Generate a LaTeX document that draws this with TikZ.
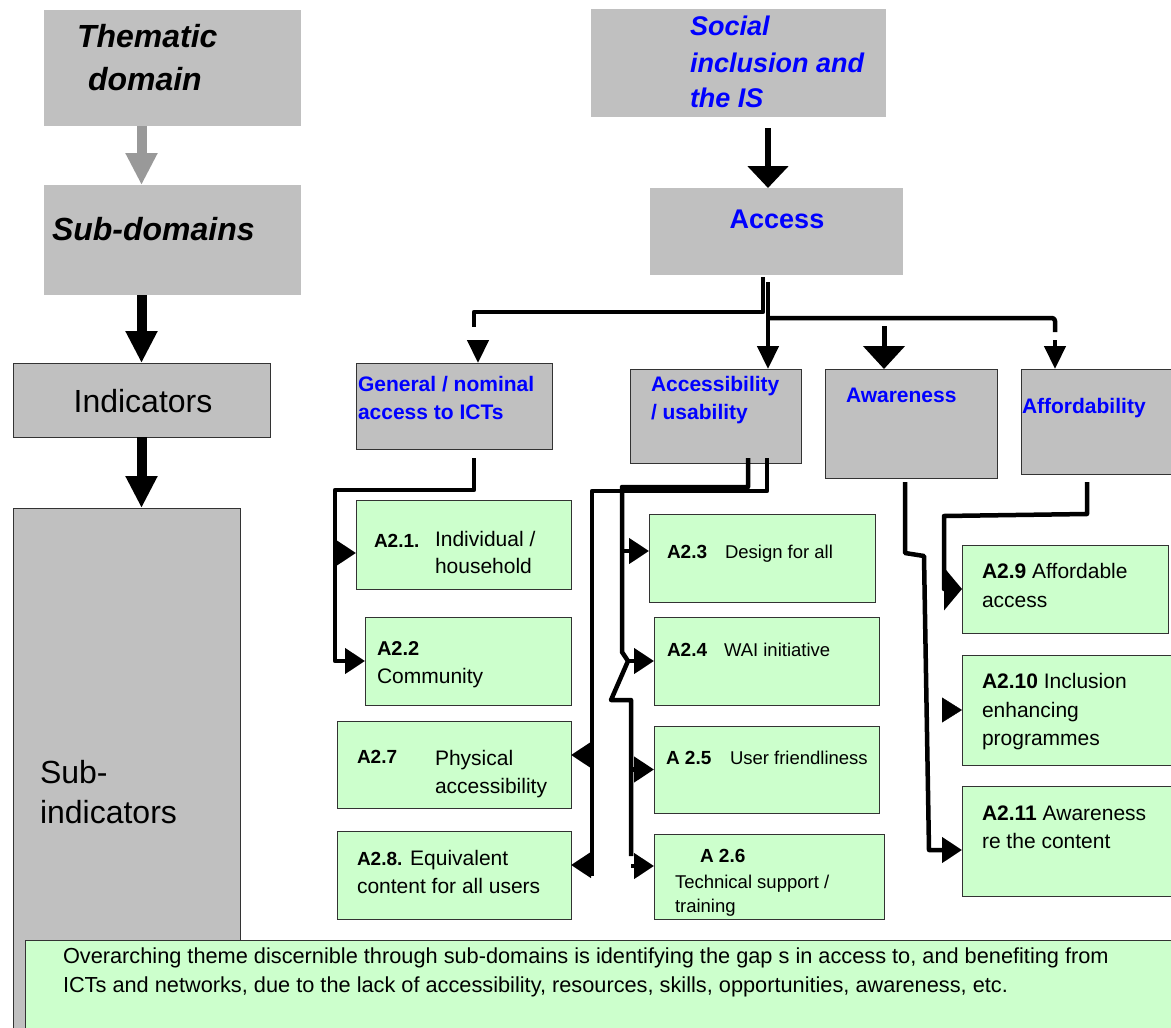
\documentclass[tikz,border=0pt]{standalone}
\usepackage{fontspec}
\setmainfont{Liberation Sans}
\usetikzlibrary{arrows.meta}
\definecolor{boxgray}{HTML}{C0C0C0}
\definecolor{boxgreen}{HTML}{CCFFCC}
\definecolor{bord}{HTML}{333333}
\definecolor{ablue}{HTML}{0000FF}
\definecolor{agray}{HTML}{999999}
\newcommand\setfs[1]{\fontsize{#1}{#1}\selectfont}
\begin{document}
\begin{tikzpicture}[x=1pt,y=-1pt,
  graybox/.style={fill=boxgray, draw=none, anchor=north west, inner sep=0pt, outer sep=0pt},
  grayframe/.style={graybox, draw=bord, line width=0.9pt},
  greenbox/.style={fill=boxgreen, draw=bord, line width=0.9pt, anchor=north west, inner sep=0pt, outer sep=0pt},
  lab/.style={anchor=base west, inner sep=0pt, outer sep=0pt},
  labc/.style={anchor=base, inner sep=0pt, outer sep=0pt},
  conn/.style={line width=4.5pt, line join=round},
  bigarrow/.style={line width=10pt, -{Triangle[width=30pt,length=32pt]}},
  tipR/.style={-{Triangle[width=25pt,length=20pt]}},
  tipD/.style={line width=4.5pt, -{Triangle[width=21pt,length=23pt]}},
  bluebf/.style={text=ablue, font=\setfs{21}\bfseries},
  gtext/.style={font=\setfs{21}},
  stext/.style={font=\setfs{18.5}}
]
\useasboundingbox (0,0) rectangle (1171,1028);

% ---------- left column ----------
\node[graybox, minimum width=257pt, minimum height=116pt] (them) at (44,10) {};
\node[lab] (themt1) at (77,47) {\setfs{32}\bfseries\itshape Thematic};
\node[lab] (themt2) at (88,90) {\setfs{32}\bfseries\itshape domain};
\node[graybox, minimum width=257pt, minimum height=110pt] (subd) at (44,185) {};
\node[lab] (subdt) at (52,240) {\setfs{32}\bfseries\itshape Sub-domains};
\node[grayframe, minimum width=257pt, minimum height=74pt] (ind) at (13,363) {};
\node[labc] (indt) at (143,412) {\setfs{32}Indicators};
\node[grayframe, minimum width=227pt, minimum height=560pt] (subi) at (13,508) {};
\node[lab] (subit1) at (40,783) {\setfs{32}Sub-};
\node[lab] (subit2) at (40,823) {\setfs{32}indicators};

\draw[bigarrow, draw=agray, color=agray] (them.south -| ind.north) -- (subd.north -| ind.north);
\draw[bigarrow] (subd.south -| ind.north) -- (ind.north);
\draw[bigarrow] (ind.south) -- (ind.south |- subi.north);

% ---------- right: top ----------
\node[graybox, minimum width=295pt, minimum height=108pt] (soc) at (591,9) {};
\node[lab, text=ablue] (soct1) at (690,35) {\setfs{27}\bfseries\itshape Social};
\node[lab, text=ablue] (soct2) at (690,72) {\setfs{27}\bfseries\itshape inclusion and};
\node[lab, text=ablue] (soct3) at (690,107) {\setfs{27}\bfseries\itshape the IS};
\node[graybox, minimum width=253pt, minimum height=87pt] (acc) at (650,188) {};
\node[labc, text=ablue] (acct) at (777,228) {\setfs{27}\bfseries Access};

\coordinate (s1) at (768,128);
\draw[line width=5.5pt, -{Triangle[width=40pt,length=22pt]}] (s1) -- (s1 |- acc.north);

% ---------- sub-domain boxes ----------
\node[grayframe, minimum width=196pt, minimum height=86pt] (gen) at (356,363) {};
\node[lab, bluebf] (gent1) at (358,391) {General / nominal};
\node[lab, bluebf] (gent2) at (358,419) {access to ICTs};
\node[grayframe, minimum width=171pt, minimum height=94pt] (accs) at (630,369) {};
\node[lab, bluebf] (accst1) at (651,391) {Accessibility};
\node[lab, bluebf] (accst2) at (651,419) {/ usability};
\node[grayframe, minimum width=172pt, minimum height=109pt] (awa) at (825,369) {};
\node[lab, bluebf] (awat) at (846,402) {Awareness};
\node[grayframe, minimum width=165pt, minimum height=105pt] (aff) at (1021,369) {};
\node[lab, bluebf] (afft) at (1022,413) {Affordability};

% branches from Access
\coordinate (accL) at (763,277);
\coordinate (accR) at (768,282);
\draw[conn] (accL) -- (763,312) -- (474,312) -- (474,327);
\coordinate (genIn) at (478,340);
\draw[tipD] (genIn) -- (genIn |- gen.north);
\draw[tipD] (accR) -- (accR |- accs.north);
\draw[conn, rounded corners=3pt] (768,318) -- (1055,318) -- (1055,332);
\coordinate (affIn) at (1055,340);
\draw[tipD] (affIn) -- (affIn |- aff.north);
\coordinate (awaIn) at (884,326);
\draw[line width=5pt, -{Triangle[width=41pt,length=23pt]}] (awaIn) -- (awaIn |- awa.north);

% ---------- green boxes ----------
\node[greenbox, minimum width=215pt, minimum height=89pt] (a21) at (356,500) {};
\node[lab] (a21a) at (374,547) {\setfs{19}\bfseries A2.1.};
\node[lab, gtext] (a21b) at (435,546) {Individual /};
\node[lab, gtext] (a21c) at (435,573) {household};

\node[greenbox, minimum width=206pt, minimum height=88pt] (a22) at (365,617) {};
\node[lab] (a22a) at (377,655) {\setfs{20}\bfseries A2.2};
\node[lab, gtext] (a22b) at (377,683) {Community};

\node[greenbox, minimum width=234pt, minimum height=87pt] (a27) at (337,721) {};
\node[lab] (a27a) at (357,763) {\setfs{19}\bfseries A2.7};
\node[lab, gtext] (a27b) at (435,765) {Physical};
\node[lab, gtext] (a27c) at (435,793) {accessibility};

\node[greenbox, minimum width=234pt, minimum height=88pt] (a28) at (337,831) {};
\node[lab, gtext] (a28a) at (357,865) {{\setfs{19}\bfseries A2.8.} Equivalent};
\node[lab, gtext] (a28b) at (357,893) {content for all users};

\node[greenbox, minimum width=226pt, minimum height=88pt] (a23) at (649,514) {};
\node[lab] (a23a) at (667,558) {\setfs{19}\bfseries A2.3};
\node[lab, stext] (a23b) at (725,558) {Design for all};

\node[greenbox, minimum width=225pt, minimum height=88pt] (a24) at (654,617) {};
\node[lab] (a24a) at (667,656) {\setfs{19}\bfseries A2.4};
\node[lab, stext] (a24b) at (724,656) {WAI initiative};

\node[greenbox, minimum width=225pt, minimum height=87pt] (a25) at (654,726) {};
\node[lab] (a25a) at (666,764) {\setfs{19}\bfseries A 2.5};
\node[lab, stext] (a25b) at (730,764) {User friendliness};

\node[greenbox, minimum width=230pt, minimum height=85pt] (a26) at (654,834) {};
\node[lab] (a26a) at (700,862) {\setfs{19}\bfseries A 2.6};
\node[lab, stext] (a26b) at (675,888) {Technical support /};
\node[lab, stext] (a26c) at (675,912) {training};

\node[greenbox, minimum width=206pt, minimum height=88pt] (a29) at (962,545) {};
\node[lab, gtext] (a29a) at (982,578) {\textbf{A2.9} Affordable};
\node[lab, gtext] (a29b) at (982,607) {access};

\node[greenbox, minimum width=215pt, minimum height=110pt] (a210) at (962,655) {};
\node[lab, gtext] (a210a) at (982,688) {\textbf{A2.10} Inclusion};
\node[lab, gtext] (a210b) at (982,717) {enhancing};
\node[lab, gtext] (a210c) at (982,745) {programmes};

\node[greenbox, minimum width=215pt, minimum height=110pt] (a211) at (962,786) {};
\node[lab, gtext] (a211a) at (982,820) {\textbf{A2.11} Awareness};
\node[lab, gtext] (a211b) at (982,848) {re the content};

% ---------- connectors to green boxes ----------
\coordinate (genOut) at (474,458);
\draw[conn, tipR] (genOut) -- (474,490) -- (335,490) -- (335,661) -- (a22.west);
\draw[conn, tipR] (335,553) -- ([yshift=-8.5pt]a21.west);

\coordinate (accsL) at (748,458);
\coordinate (accsR) at (767,458);
\draw[conn] (accsR) -- (767,491) -- (592,491) -- (592,876);
\draw[conn] (accsL) -- (748,487) -- (622,487) -- (622,652) -- (628,661) -- (611,700) -- (631,700) -- (631,856);
\draw[conn, tipR] (592,755) -- ([yshift=9.5pt]a27.east);
\draw[conn, tipR] (592,865) -- ([yshift=10pt]a28.east);
\draw[conn, tipR] (622,551) -- ([yshift=7pt]a23.west);
\draw[conn, tipR] (626,661) -- (a24.west);
\draw[conn, tipR] (631,769.5) -- (a25.west);
\draw[conn, tipR] (631,866) -- ([yshift=10.5pt]a26.west);

\coordinate (awaOut) at (905,482);
\draw[conn, tipR] (awaOut) -- (905,553) -- (924,556) -- (929,850) -- ([yshift=-9pt]a211.west);
\coordinate (a210In) at (942,710);
\draw[tipR] (a210In) -- (a210.west);

\coordinate (affOut) at (1087,482);
\draw[conn, -{Triangle[width=42pt,length=18pt]}] (affOut) -- (1087,514) -- (944,516) -- (944,589) -- (a29.west);

% ---------- overarching box ----------
\node[greenbox, minimum width=1160pt, minimum height=100pt] (over) at (25,940) {};
\node[lab] (overt1) at (63,963) {\setfs{21.75}Overarching theme discernible through sub-domains is identifying the gap s in access to, and benefiting from};
\node[lab] (overt2) at (63,992) {\setfs{21.75}ICTs and networks, due to the lack of accessibility, resources, skills, opportunities, awareness, etc.};
\end{tikzpicture}
\end{document}
